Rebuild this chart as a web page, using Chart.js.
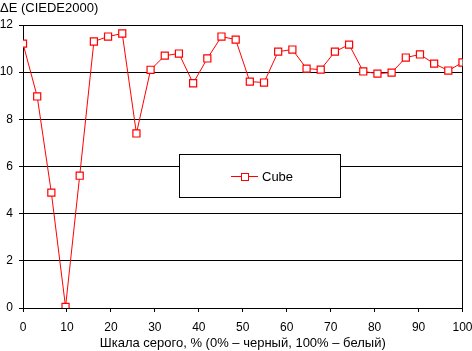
<!DOCTYPE html>
<html>
<head>
<meta charset="utf-8">
<script src="https://cdn.jsdelivr.net/npm/chart.js@4/dist/chart.umd.min.js"></script>
<style>
  html, body { margin: 0; padding: 0; background: #fff; }
  #wrap { width: 472px; height: 351px; }
</style>
</head>
<body>
<div id="wrap"><canvas id="chart"></canvas></div>
<script>
// Данные (шкала серого, ΔE)
const seriesName = 'Cube';
const grayLevels = [0, 3.23, 6.45, 9.68, 12.9, 16.13, 19.35, 22.58, 25.81, 29.03, 32.26,
    35.48, 38.71, 41.94, 45.16, 48.39, 51.61, 54.84, 58.06, 61.29, 64.52, 67.74,
    70.97, 74.19, 77.42, 80.65, 83.87, 87.1, 90.32, 93.55, 96.77, 100];
const deltaE = [11.21, 8.97, 4.89, 0.05, 5.61, 11.3, 11.51, 11.64, 7.40, 10.1, 10.70,
    10.79, 9.53, 10.58, 11.51, 11.38, 9.60, 9.56, 10.87, 10.96, 10.15, 10.11,
    10.87, 11.17, 10.03, 9.94, 9.98, 10.62, 10.75, 10.36, 10.07, 10.41];
const xTicks = [0, 10, 20, 30, 40, 50, 60, 70, 80, 90, 100];
const yTicks = [0, 2, 4, 6, 8, 10, 12];
const yTitle = 'ΔE (CIEDE2000)';
const xTitle = 'Шкала серого, % (0% – черный, 100% – белый)';

const FONT = 'Arial, "Liberation Sans", sans-serif';
const FSIZE = 13;   // заголовки
const TSIZE = 12;   // подписи делений

// заголовок + легенда
const extras = {
    id: 'extras',
    afterDraw(chart) {
        const ctx = chart.ctx;
        ctx.save();
        ctx.lineWidth = 1;

        // заголовок оси Y
        ctx.fillStyle = '#000';
        ctx.font = FSIZE + 'px ' + FONT;
        ctx.textBaseline = 'middle';
        ctx.textAlign = 'left';
        ctx.fillText(yTitle, 0, 8);

        // легенда
        ctx.strokeStyle = '#000';
        ctx.fillStyle = '#fff';
        ctx.fillRect(179.5, 154.5, 161, 43);
        ctx.strokeRect(179.5, 154.5, 161, 43);
        ctx.strokeStyle = '#ff0000';
        ctx.beginPath();
        ctx.moveTo(231, 176.5);
        ctx.lineTo(258, 176.5);
        ctx.stroke();
        ctx.fillStyle = '#fff';
        ctx.fillRect(241.5, 173.5, 7, 7);
        ctx.strokeRect(241.5, 173.5, 7, 7);
        ctx.fillStyle = '#000';
        ctx.fillText(seriesName, 262, 177);
        ctx.restore();
    }
};

new Chart(document.getElementById('chart'), {
    type: 'line',
    data: {
        datasets: [{
            label: seriesName,
            data: grayLevels.map((x, i) => ({ x: x, y: deltaE[i] })),
            borderColor: '#ff0000',
            borderWidth: 1,
            backgroundColor: '#ffffff',
            pointStyle: 'rect',
            pointRadius: 5,
            pointBorderWidth: 1.2,
            pointBackgroundColor: '#ffffff',
            pointBorderColor: '#ff0000',
            tension: 0
        }]
    },
    options: {
        responsive: true,
        maintainAspectRatio: false,
        animation: false,
        layout: { padding: { left: 0, right: 0, top: 25, bottom: 0 } },
        plugins: {
            legend: { display: false },
            tooltip: { enabled: false },
            title: { display: false }
        },
        scales: {
            x: {
                type: 'linear',
                min: 0,
                max: 100,
                afterBuildTicks: s => { s.ticks = xTicks.map(v => ({ value: v })); },
                afterFit: s => { s.height = 43; s.paddingLeft = 0; s.paddingRight = 0; },
                grid: { drawOnChartArea: false, drawTicks: true, tickLength: 4, color: '#000' },
                border: { color: '#000' },
                ticks: { color: '#000', font: { family: FONT, size: TSIZE }, padding: 8, maxRotation: 0 },
                title: { display: true, text: xTitle, color: '#000', font: { family: FONT, size: FSIZE }, padding: { top: 0, bottom: 0 } }
            },
            y: {
                min: 0,
                max: 12,
                afterBuildTicks: s => { s.ticks = yTicks.map(v => ({ value: v })); },
                afterFit: s => { s.width = 23; s.paddingTop = 0; s.paddingBottom = 0; },
                grid: { drawTicks: true, tickLength: 4, color: '#000' },
                border: { color: '#000' },
                ticks: { color: '#000', font: { family: FONT, size: TSIZE }, padding: 6 }
            },
            // правая граница области
            yRight: {
                position: 'right',
                min: 0,
                max: 12,
                afterFit: s => { s.width = 9.5; s.paddingTop = 0; s.paddingBottom = 0; },
                grid: { drawOnChartArea: false, drawTicks: false },
                border: { color: '#000' },
                ticks: { display: false }
            }
        }
    },
    plugins: [extras]
});
</script>
</body>
</html>
